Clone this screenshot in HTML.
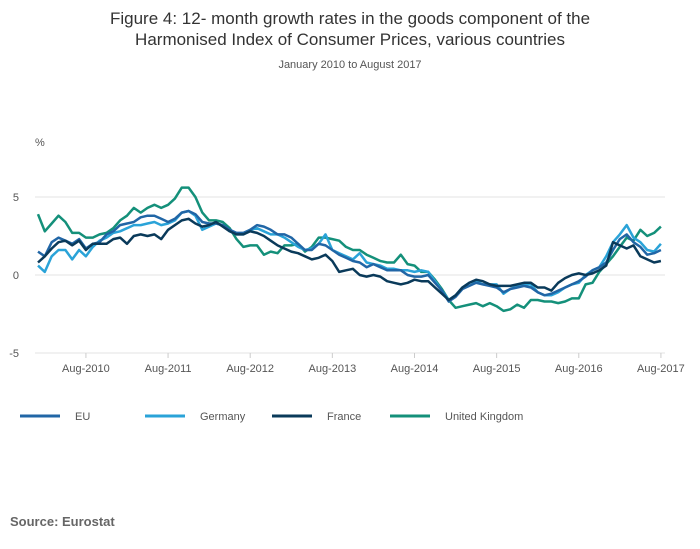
<!DOCTYPE html>
<html><head><meta charset="utf-8"><style>
body{margin:0;background:#fff;font-family:"Liberation Sans",sans-serif;}
#wrap{position:relative;width:700px;height:549px;overflow:hidden}
</style></head><body>
<div id="wrap">
<svg id="chart" width="700" height="549"></svg>
</div>
<script>
const months = 92;
const xTickLabels = ["Aug-2010","Aug-2011","Aug-2012","Aug-2013","Aug-2014","Aug-2015","Aug-2016","Aug-2017"];
const xTickIndex = [7,19,31,43,55,67,79,91];
const yTicks = [5,0,-5];
const seriesNames = ["EU","Germany","France","United Kingdom"];
const eu = [1.5,1.2,2.1,2.4,2.2,2.0,2.3,1.7,2.0,2.1,2.6,2.8,3.2,3.3,3.4,3.7,3.8,3.8,3.6,3.4,3.6,4.0,4.1,3.9,3.4,3.3,3.3,3.2,2.9,2.7,2.7,2.9,3.2,3.1,2.9,2.6,2.6,2.4,2.0,1.6,1.6,2.0,1.9,1.6,1.3,1.1,0.9,0.8,0.5,0.7,0.5,0.3,0.3,0.3,0,-0.1,-0.1,0,-0.5,-1.0,-1.7,-1.4,-0.9,-0.7,-0.5,-0.6,-0.7,-0.8,-1.1,-0.9,-0.8,-0.7,-0.8,-1.1,-1.3,-1.2,-1.0,-0.8,-0.6,-0.4,-0.1,0.3,0.5,0.8,1.6,2.3,2.6,2.1,1.8,1.3,1.4,1.6];
const germany = [0.6,0.2,1.2,1.6,1.6,1.0,1.6,1.2,1.8,2.2,2.4,2.7,2.8,3.0,3.2,3.2,3.3,3.4,3.2,3.3,3.5,4.0,4.1,3.8,2.9,3.1,3.3,3.2,2.8,2.6,2.6,2.9,3.0,2.8,2.6,2.6,2.4,2.1,1.8,1.6,1.7,2.0,2.6,1.6,1.4,1.2,1.0,1.4,0.8,0.7,0.6,0.4,0.4,0.3,0.3,0.2,0.3,0.2,-0.4,-1.0,-1.6,-1.3,-0.8,-0.5,-0.4,-0.6,-0.6,-0.6,-1.2,-0.9,-0.7,-0.6,-0.6,-1.1,-1.3,-1.3,-1.1,-0.8,-0.6,-0.5,0,0.3,0.5,1.2,2.1,2.6,3.2,2.4,2.1,1.6,1.5,2.0];
const france = [0.8,1.2,1.7,2.1,2.2,1.9,2.2,1.6,2.0,2.0,2.0,2.3,2.4,2.0,2.5,2.6,2.5,2.6,2.3,2.9,3.2,3.5,3.6,3.3,3.1,3.2,3.4,3.1,2.8,2.6,2.6,2.8,2.7,2.5,2.2,1.9,1.7,1.5,1.4,1.2,1.0,1.1,1.3,0.9,0.2,0.3,0.4,0,-0.1,0,-0.1,-0.4,-0.5,-0.6,-0.5,-0.3,-0.4,-0.4,-0.8,-1.2,-1.6,-1.3,-0.8,-0.5,-0.3,-0.4,-0.6,-0.7,-0.7,-0.7,-0.6,-0.5,-0.5,-0.8,-0.8,-1.0,-0.5,-0.2,0,0.1,0,0.1,0.3,0.6,2.1,1.9,1.7,1.9,1.2,1.0,0.8,0.9];
const uk = [3.9,2.8,3.3,3.8,3.4,2.7,2.7,2.4,2.4,2.6,2.7,3.0,3.5,3.8,4.3,4.0,4.3,4.5,4.3,4.5,4.9,5.6,5.6,5.0,4.0,3.5,3.5,3.4,3.0,2.3,1.8,1.9,1.9,1.3,1.5,1.4,1.9,1.9,2.0,1.5,1.8,2.4,2.4,2.3,2.2,1.8,1.6,1.6,1.3,1.1,0.9,0.8,0.8,1.3,0.7,0.6,0.2,0.2,-0.3,-0.9,-1.6,-2.1,-2.0,-1.9,-1.8,-2.0,-1.8,-2.0,-2.3,-2.2,-1.9,-2.1,-1.6,-1.6,-1.7,-1.7,-1.8,-1.7,-1.5,-1.5,-0.6,-0.5,0.2,0.7,1.2,1.8,2.4,2.2,2.9,2.5,2.7,3.1];
const seriesData = [eu, germany, france, uk];
const seriesColors = ["#2166a6","#2aa3d8","#0a3a5a","#14907a"];
const drawOrder = [3,1,0,2];

const NS="http://www.w3.org/2000/svg";
const svg=document.getElementById('chart');
const x0=38, xStep=575/84, yZero=275, yUnit=15.6;
const xs=i=>x0+i*xStep, ys=v=>yZero-v*yUnit;
function mk(tag,attrs,txt){const e=document.createElementNS(NS,tag);for(const k in attrs)e.setAttribute(k,attrs[k]);if(txt!==undefined)e.textContent=txt;svg.appendChild(e);return e;}

let t=mk('text',{x:350,y:24,'text-anchor':'middle','font-size':17,fill:'#333'},'Figure 4: 12- month growth rates in the goods component of the');


t=mk('text',{x:350,y:45,'text-anchor':'middle','font-size':17,fill:'#333'},'Harmonised Index of Consumer Prices, various countries');


t=mk('text',{x:350,y:68,'text-anchor':'middle','font-size':11,fill:'#555'},'January 2010 to August 2017');


t=mk('text',{x:35,y:146,'font-size':11,fill:'#555'},'%');



yTicks.forEach(v=>{
  const g=mk('line',{x1:35,x2:665,y1:ys(v),y2:ys(v),stroke:'#e3e3e3','stroke-width':1});
  
  
  const l=mk('text',{x:19,y:ys(v)+4,'text-anchor':'end','font-size':11,fill:'#555'},String(v));
  
  
});
xTickLabels.forEach((lab,k)=>{
  const x=xs(xTickIndex[k]);
  const tk=mk('line',{x1:x,x2:x,y1:353,y2:358,stroke:'#ccc'});
  
  
  const l=mk('text',{x:x,y:372,'text-anchor':'middle','font-size':11,fill:'#555'},lab);
  
  
});
drawOrder.forEach(s=>{
  const pts=seriesData[s].map((v,i)=>xs(i).toFixed(1)+','+ys(v).toFixed(1)).join(' ');
  const p=mk('polyline',{points:pts,fill:'none',stroke:seriesColors[s],'stroke-width':2.5,'stroke-linejoin':'round'});
  
  
});
const legX=[20,145,272,390];
seriesNames.forEach((n,s)=>{
  const ln=mk('line',{x1:legX[s],x2:legX[s]+40,y1:416,y2:416,stroke:seriesColors[s],'stroke-width':3});
  
  
  const l=mk('text',{x:legX[s]+55,y:420,'font-size':11,fill:'#555'},n);
  
  
});
t=mk('text',{x:10,y:526,'font-size':13,'font-weight':'bold',fill:'#666'},'Source: Eurostat');


</script>
</body></html>
